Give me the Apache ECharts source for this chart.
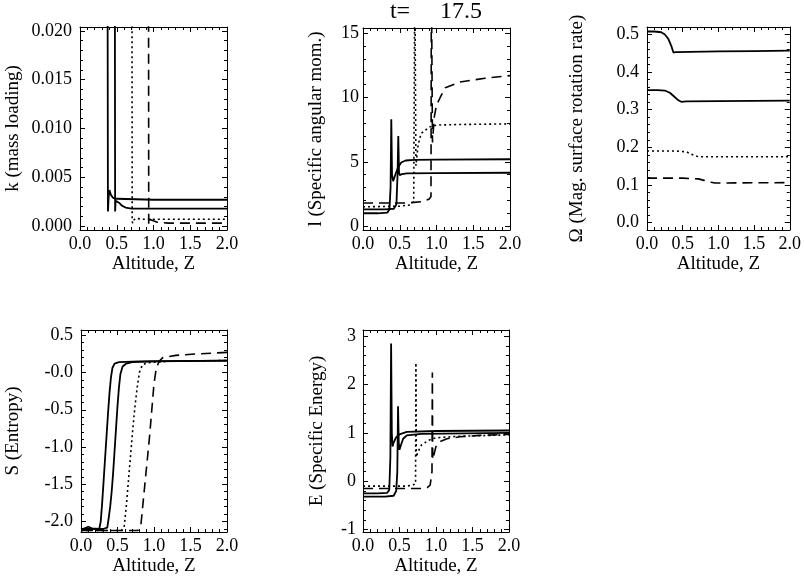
<!DOCTYPE html>
<html><head><meta charset="utf-8">
<script src="https://cdn.jsdelivr.net/npm/echarts@6/dist/echarts.min.js"></script>
<style>html,body{margin:0;padding:0;background:#fff}#c{width:804px;height:583px}</style>
</head><body><div id="c"></div>
<script>
// ---------- tick labels ----------
const zTicks = [0, 0.5, 1.0, 1.5, 2.0];
const zTickLabels = ['0.0', '0.5', '1.0', '1.5', '2.0'];
const kTicks = [0, 0.005, 0.010, 0.015, 0.020];
const kTickLabels = ['0.000', '0.005', '0.010', '0.015', '0.020'];
const lTicks = [0, 5, 10, 15];
const lTickLabels = ['0', '5', '10', '15'];
const omTicks = [0, 0.1, 0.2, 0.3, 0.4, 0.5];
const omTickLabels = ['0.0', '0.1', '0.2', '0.3', '0.4', '0.5'];
const sTicks = [-2.0, -1.5, -1.0, -0.5, 0, 0.5];
const sTickLabels = ['-2.0', '-1.5', '-1.0', '-0.5', '-0.0', '0.5'];
const eTicks = [-1, 0, 1, 2, 3];
const eTickLabels = ['-1', '0', '1', '2', '3'];

// ---------- data: [Z, value] ----------
// k (mass loading)
const kSolidA = [[0,0.05],[0.37,0.05],[0.38,0.0015],[0.39,0.0030],[0.40,0.0037],[0.42,0.0032],[0.45,0.0029],[0.5,0.0028],[1.0,0.0027],[2.0,0.0027]];
const kSolidB = [[0,0.05],[0.47,0.05],[0.478,0.0015],[0.485,0.0026],[0.495,0.0028],[0.53,0.0024],[0.57,0.0021],[0.62,0.0019],[0.7,0.0018],[2.0,0.0018]];
const kDotted = [[0,0.05],[0.705,0.05],[0.71,0.0006],[0.715,0.0003],[0.73,0.0006],[0.76,0.0008],[0.85,0.0007],[2.0,0.0007]];
const kDashed = [[0,0.05],[0.93,0.05],[0.935,0.0001],[0.95,0.0007],[0.98,0.0006],[1.05,0.0004],[1.2,0.0003],[2.0,0.0003]];
// l (specific angular momentum)
const lSolidA = [[0,1.0],[0.2,1.0],[0.33,1.05],[0.36,1.3],[0.375,3.0],[0.385,8.3],[0.395,4.0],[0.41,3.5],[0.44,4.0],[0.48,4.6],[0.52,4.95],[0.58,5.1],[0.7,5.15],[1.0,5.17],[2.0,5.2]];
const lSolidB = [[0,1.3],[0.3,1.3],[0.42,1.35],[0.455,1.7],[0.47,4.0],[0.48,7.0],[0.49,4.2],[0.5,3.95],[0.53,4.05],[0.6,4.1],[1.0,4.12],[2.0,4.15]];
const lDotted = [[0,1.5],[0.5,1.55],[0.64,1.65],[0.69,1.9],[0.705,20],[0.712,20],[0.72,4.7],[0.75,6.3],[0.79,7.2],[0.9,7.7],[1.0,7.85],[1.3,7.9],[2.0,7.95]];
const lDashed = [[0,1.8],[0.6,1.8],[0.8,1.9],[0.9,2.1],[0.925,2.3],[0.93,20],[0.94,20],[0.945,6.5],[0.97,8.5],[1.0,9.4],[1.05,10.0],[1.12,10.75],[1.32,11.2],[1.66,11.5],[2.0,11.7]];
// Omega (magnetic surface rotation rate)
const omSolidA = [[0,0.508],[0.1,0.508],[0.2,0.506],[0.25,0.5],[0.3,0.488],[0.34,0.47],[0.37,0.452],[0.4,0.453],[0.6,0.454],[1.0,0.455],[1.5,0.456],[2.0,0.457]];
const omSolidB = [[0,0.352],[0.15,0.352],[0.25,0.351],[0.32,0.345],[0.38,0.335],[0.44,0.325],[0.48,0.321],[0.55,0.322],[1.0,0.323],[2.0,0.324]];
const omDotted = [[0,0.19],[0.4,0.19],[0.55,0.188],[0.62,0.182],[0.7,0.176],[0.75,0.175],[2.0,0.175]];
const omDashed = [[0,0.118],[0.5,0.118],[0.72,0.116],[0.8,0.112],[0.9,0.107],[0.95,0.105],[2.0,0.106]];
// S (entropy)
const sSolidA = [[0,-2.1],[0.05,-2.09],[0.1,-2.07],[0.15,-2.09],[0.25,-2.1],[0.27,-2.0],[0.29,-1.75],[0.31,-1.45],[0.33,-1.15],[0.35,-0.85],[0.37,-0.55],[0.39,-0.28],[0.41,-0.07],[0.43,0.06],[0.46,0.12],[0.52,0.14],[0.8,0.15],[2.0,0.16]];
const sSolidB = [[0,-2.1],[0.3,-2.1],[0.36,-2.08],[0.38,-1.95],[0.40,-1.8],[0.42,-1.6],[0.44,-1.35],[0.46,-1.05],[0.48,-0.75],[0.50,-0.45],[0.52,-0.2],[0.54,-0.02],[0.57,0.08],[0.62,0.12],[0.7,0.14],[1.0,0.15],[2.0,0.16]];
const sDotted = [[0,-2.12],[0.55,-2.12],[0.59,-2.08],[0.62,-1.8],[0.65,-1.45],[0.68,-1.1],[0.71,-0.75],[0.74,-0.45],[0.77,-0.2],[0.8,0.0],[0.84,0.1],[0.9,0.13],[1.2,0.15],[2.0,0.16]];
const sDashed = [[0,-2.12],[0.78,-2.12],[0.82,-2.05],[0.85,-1.75],[0.88,-1.45],[0.91,-1.15],[0.94,-0.85],[0.97,-0.5],[1.0,-0.15],[1.03,0.05],[1.07,0.15],[1.12,0.2],[1.3,0.23],[1.6,0.25],[2.0,0.27]];
// E (specific energy)
const eSolidA = [[0,-0.25],[0.2,-0.25],[0.33,-0.24],[0.36,-0.18],[0.375,0.5],[0.385,2.85],[0.395,1.0],[0.405,0.72],[0.42,0.8],[0.45,0.9],[0.5,0.97],[0.6,1.02],[1.0,1.04],[2.0,1.05]];
const eSolidB = [[0,-0.32],[0.3,-0.32],[0.42,-0.3],[0.455,-0.2],[0.47,0.2],[0.48,1.55],[0.49,0.8],[0.5,0.65],[0.52,0.75],[0.55,0.88],[0.6,0.95],[0.8,0.98],[2.0,1.0]];
const eDotted = [[0,-0.1],[0.6,-0.1],[0.68,-0.08],[0.72,-0.05],[0.725,2.45],[0.73,0.5],[0.75,0.6],[0.8,0.75],[0.9,0.85],[1.0,0.9],[1.3,0.93],[2.0,0.96]];
const eDashed = [[0,-0.15],[0.8,-0.15],[0.88,-0.13],[0.92,-0.08],[0.945,0.2],[0.95,2.25],[0.955,0.45],[0.98,0.6],[1.0,0.72],[1.05,0.82],[1.15,0.88],[1.33,0.92],[1.6,0.95],[2.0,0.97]];

// ---------- layout ----------
const FONT = 'Liberation Serif';
const panels = [
  {grid:{left:80, top:27, width:147, height:203}, yMin:-0.0004, yMax:0.0204, ticks:kTicks, labels:kTickLabels, minor:0.001, name:'k (mass loading)', gap:57, margin:8,
   series:[kSolidA,kSolidB,kDotted,kDashed]},
  {grid:{left:363, top:28, width:147, height:202}, yMin:-0.3, yMax:15.4, ticks:lTicks, labels:lTickLabels, minor:1, name:'l (Specific angular mom.)', gap:37, margin:4,
   series:[lSolidA,lSolidB,lDotted,lDashed]},
  {grid:{left:647, top:27, width:145, height:203}, yMin:-0.02, yMax:0.52, ticks:omTicks, labels:omTickLabels, minor:0.02, name:'Ω (Mag. surface rotation rate)', gap:60, margin:8,
   series:[omSolidA,omSolidB,omDotted,omDashed]},
  {grid:{left:81, top:330, width:146, height:202}, yMin:-2.14, yMax:0.57, ticks:sTicks, labels:sTickLabels, minor:0.1, name:'S (Entropy)', gap:58, margin:8,
   series:[sSolidA,sSolidB,sDotted,sDashed]},
  {grid:{left:363, top:330, width:146, height:202}, yMin:-1.05, yMax:3.13, ticks:eTicks, labels:eTickLabels, minor:0.2, name:'E (Specific Energy)', gap:36, margin:7,
   series:[eSolidA,eSolidB,eDotted,eDashed]}
];
const lineTypes = ['solid', 'solid', [2, 3], [10, 6]];

function minorVals(min, max, step) {
  const out = [];
  const start = Math.ceil(min / step - 1e-9);
  for (let i = start; i * step <= max + 1e-12; i++) out.push(Math.round(i * step * 1e6) / 1e6);
  return out;
}
function fmt(ticks, labels) {
  return function (v) {
    for (let i = 0; i < ticks.length; i++) if (Math.abs(ticks[i] - v) < 1e-9) return labels[i];
    return '';
  };
}
const black = {color: '#000', width: 1};
const grids = [], xAxes = [], yAxes = [], series = [];
panels.forEach((p, gi) => {
  grids.push(Object.assign({containLabel: false}, p.grid));
  const xi = xAxes.length, yi = yAxes.length;
  const zMinor = minorVals(0, 2, 0.1);
  const yMinor = minorVals(p.yMin, p.yMax, p.minor);
  const baseX = {gridIndex: gi, type: 'value', min: 0, max: 2, splitLine: {show: false}};
  const baseY = {gridIndex: gi, type: 'value', min: p.yMin, max: p.yMax, splitLine: {show: false}};
  // x: bottom major (labels), bottom minor, top major, top minor
  xAxes.push(Object.assign({}, baseX, {position: 'bottom',
    axisLine: {show: true, onZero: false, lineStyle: black},
    axisTick: {show: true, inside: true, length: 5, customValues: zTicks, lineStyle: black},
    axisLabel: {show: true, customValues: zTicks, formatter: fmt(zTicks, zTickLabels), margin: 5, color: '#000', fontFamily: FONT, fontSize: 18},
    name: 'Altitude, Z', nameLocation: 'middle', nameGap: 25,
    nameTextStyle: {color: '#000', fontFamily: FONT, fontSize: 19}}));
  xAxes.push(Object.assign({}, baseX, {position: 'bottom',
    axisLine: {show: false, onZero: false},
    axisTick: {show: true, inside: true, length: 3, customValues: zMinor, lineStyle: black},
    axisLabel: {show: false}}));
  xAxes.push(Object.assign({}, baseX, {position: 'top',
    axisLine: {show: true, onZero: false, lineStyle: black},
    axisTick: {show: true, inside: true, length: 5, customValues: zTicks, lineStyle: black},
    axisLabel: {show: false}}));
  xAxes.push(Object.assign({}, baseX, {position: 'top',
    axisLine: {show: false, onZero: false},
    axisTick: {show: true, inside: true, length: 3, customValues: zMinor, lineStyle: black},
    axisLabel: {show: false}}));
  // y: left major (labels), left minor, right major, right minor
  yAxes.push(Object.assign({}, baseY, {position: 'left',
    axisLine: {show: true, onZero: false, lineStyle: black},
    axisTick: {show: true, inside: true, length: 5, customValues: p.ticks, lineStyle: black},
    axisLabel: {show: true, customValues: p.ticks, formatter: fmt(p.ticks, p.labels), margin: p.margin, color: '#000', fontFamily: FONT, fontSize: 18},
    name: p.name, nameLocation: 'middle', nameGap: p.gap, nameRotate: 90,
    nameTextStyle: {color: '#000', fontFamily: FONT, fontSize: 19}}));
  yAxes.push(Object.assign({}, baseY, {position: 'left',
    axisLine: {show: false, onZero: false},
    axisTick: {show: true, inside: true, length: 3, customValues: yMinor, lineStyle: black},
    axisLabel: {show: false}}));
  yAxes.push(Object.assign({}, baseY, {position: 'right',
    axisLine: {show: true, onZero: false, lineStyle: black},
    axisTick: {show: true, inside: true, length: 5, customValues: p.ticks, lineStyle: black},
    axisLabel: {show: false}}));
  yAxes.push(Object.assign({}, baseY, {position: 'right',
    axisLine: {show: false, onZero: false},
    axisTick: {show: true, inside: true, length: 3, customValues: yMinor, lineStyle: black},
    axisLabel: {show: false}}));
  p.series.forEach((d, si) => {
    series.push({type: 'line', xAxisIndex: xi, yAxisIndex: yi, data: d, showSymbol: false, symbol: 'none',
      clip: true, smooth: false,
      lineStyle: {color: '#000', width: si < 2 ? 1.8 : 1.6, type: lineTypes[si]}});
  });
});

const chart = echarts.init(document.getElementById('c'), null, {renderer: 'canvas'});
chart.setOption({
  animation: false,
  backgroundColor: '#fff',
  grid: grids, xAxis: xAxes, yAxis: yAxes, series: series,
  graphic: [{type: 'text', x: 436, y: 12,
    style: {text: 't=     17.5', fill: '#000', font: '24px "Liberation Serif"', align: 'center', verticalAlign: 'middle'}}]
});
</script></body></html>
